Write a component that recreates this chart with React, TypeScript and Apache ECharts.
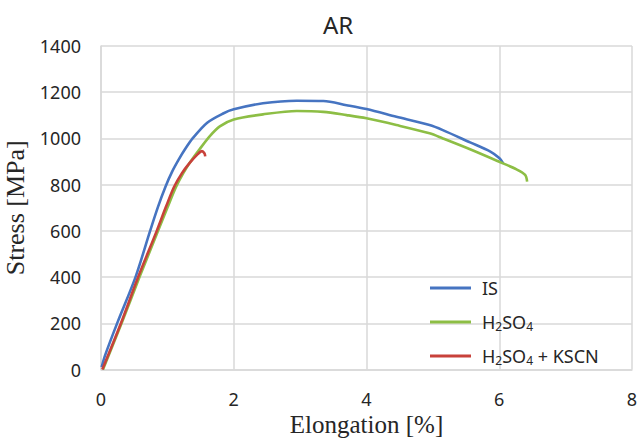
import React, { useEffect, useRef } from "react";
import * as echarts from "echarts";

const seriesNames = ["IS", "H2SO4", "H2SO4 + KSCN"];

const isStrain = [0.01, 0.06, 0.25, 0.52, 0.74, 0.86, 0.97, 1.07, 1.17, 1.27, 1.38, 1.6, 1.84, 2.0, 2.44, 2.95, 3.35, 3.7, 4.0, 4.45, 4.95, 5.15, 5.56, 5.86, 6.0, 6.06];
const isStress = [10, 60, 205, 400, 600, 705, 790, 855, 908, 955, 1000, 1068, 1108, 1126, 1152, 1163, 1162, 1144, 1127, 1094, 1058, 1036, 983, 944, 915, 892];

const h2so4Strain = [0.03, 0.31, 0.58, 0.86, 1.0, 1.13, 1.24, 1.35, 1.49, 1.64, 1.79, 2.0, 2.44, 2.95, 3.35, 3.7, 4.0, 4.45, 4.95, 5.15, 5.56, 6.0, 6.26, 6.39, 6.42];
const h2so4Stress = [0, 200, 400, 600, 700, 790, 850, 900, 955, 1010, 1052, 1082, 1104, 1119, 1115, 1101, 1087, 1058, 1022, 1000, 953, 899, 866, 842, 813];

const kscnStrain = [0.02, 0.3, 0.56, 0.84, 0.98, 1.1, 1.22, 1.33, 1.45, 1.52, 1.56, 1.57];
const kscnStress = [0, 200, 400, 600, 705, 790, 850, 892, 930, 945, 935, 922];

const xTicks = [0, 2, 4, 6, 8];
const yTicks = [0, 200, 400, 600, 800, 1000, 1200, 1400];

const colors = ["#4674C1", "#8DBE45", "#C8413A"];

const zip = (xs: number[], ys: number[]) => xs.map((x, i) => [x, ys[i]]);

export default function App() {
  const ref = useRef<HTMLDivElement>(null);
  useEffect(() => {
    if (!ref.current) return;
    const chart = echarts.init(ref.current, undefined, { renderer: "svg" });
    const sans = "Noto Sans";
    const serif = "Liberation Serif";
    const gridColor = "#D9D9D9";
    const data = [
      zip(isStrain, isStress),
      zip(h2so4Strain, h2so4Stress),
      zip(kscnStrain, kscnStress),
    ];
    chart.setOption({
      animation: false,
      backgroundColor: "#ffffff",
      title: {
        text: "AR",
        left: 333,
        top: 7,
        textAlign: "center",
        textStyle: { fontFamily: sans, fontSize: 24, fontWeight: "normal", color: "#262626" },
      },
      grid: { left: 101, right: 6, top: 46, bottom: 69.5, containLabel: false, outerBoundsMode: "none" },
      legend: {
        orient: "vertical",
        left: 425,
        top: 273,
        itemWidth: 41,
        itemHeight: 3,
        itemGap: 14,
        icon: "rect",
        data: seriesNames,
        formatter: (name: string) => name.replace(/(\d)/g, "{sub|$1}"),
        textStyle: {
          fontFamily: sans,
          fontSize: 18,
          lineHeight: 20,
          color: "#262626",
          padding: [0, 0, 0, 6],
          rich: {
            sub: { fontFamily: sans, fontSize: 12, lineHeight: 2, verticalAlign: "bottom", color: "#262626" },
          },
        },
      },
      xAxis: {
        type: "value",
        min: xTicks[0],
        max: xTicks[xTicks.length - 1],
        interval: 2,
        name: "Elongation [%]",
        nameLocation: "middle",
        nameGap: 38,
        nameTextStyle: { fontFamily: serif, fontSize: 25, color: "#262626" },
        axisLine: { show: true, lineStyle: { color: gridColor, width: 1.5 } },
        axisTick: { show: false },
        axisLabel: { margin: 20, fontFamily: sans, fontSize: 18, color: "#262626", formatter: (v: number) => String(v) },
        splitLine: { show: true, lineStyle: { color: gridColor, width: 1.5 } },
      },
      yAxis: {
        type: "value",
        min: yTicks[0],
        max: yTicks[yTicks.length - 1],
        interval: 200,
        name: "Stress [MPa]",
        nameLocation: "middle",
        nameGap: 68,
        nameTextStyle: { fontFamily: serif, fontSize: 26, color: "#262626" },
        axisLine: { show: true, lineStyle: { color: gridColor, width: 1.5 } },
        axisTick: { show: false },
        axisLabel: { margin: 20, fontFamily: sans, fontSize: 18, color: "#262626", formatter: (v: number) => String(v) },
        splitLine: { show: true, lineStyle: { color: gridColor, width: 1.5 } },
      },
      series: seriesNames.map((name, i) => ({
        name,
        type: "line",
        data: data[i],
        showSymbol: false,
        symbol: "none",
        smooth: 0.3,
        color: colors[i],
        lineStyle: { color: colors[i], width: 2.6 },
        z: 3 + i,
      })),
    });
    return () => chart.dispose();
  }, []);
  return (
    <div
      ref={ref}
      style={{ position: "fixed", left: 0, top: 0, width: 638, height: 439 }}
    />
  );
}
